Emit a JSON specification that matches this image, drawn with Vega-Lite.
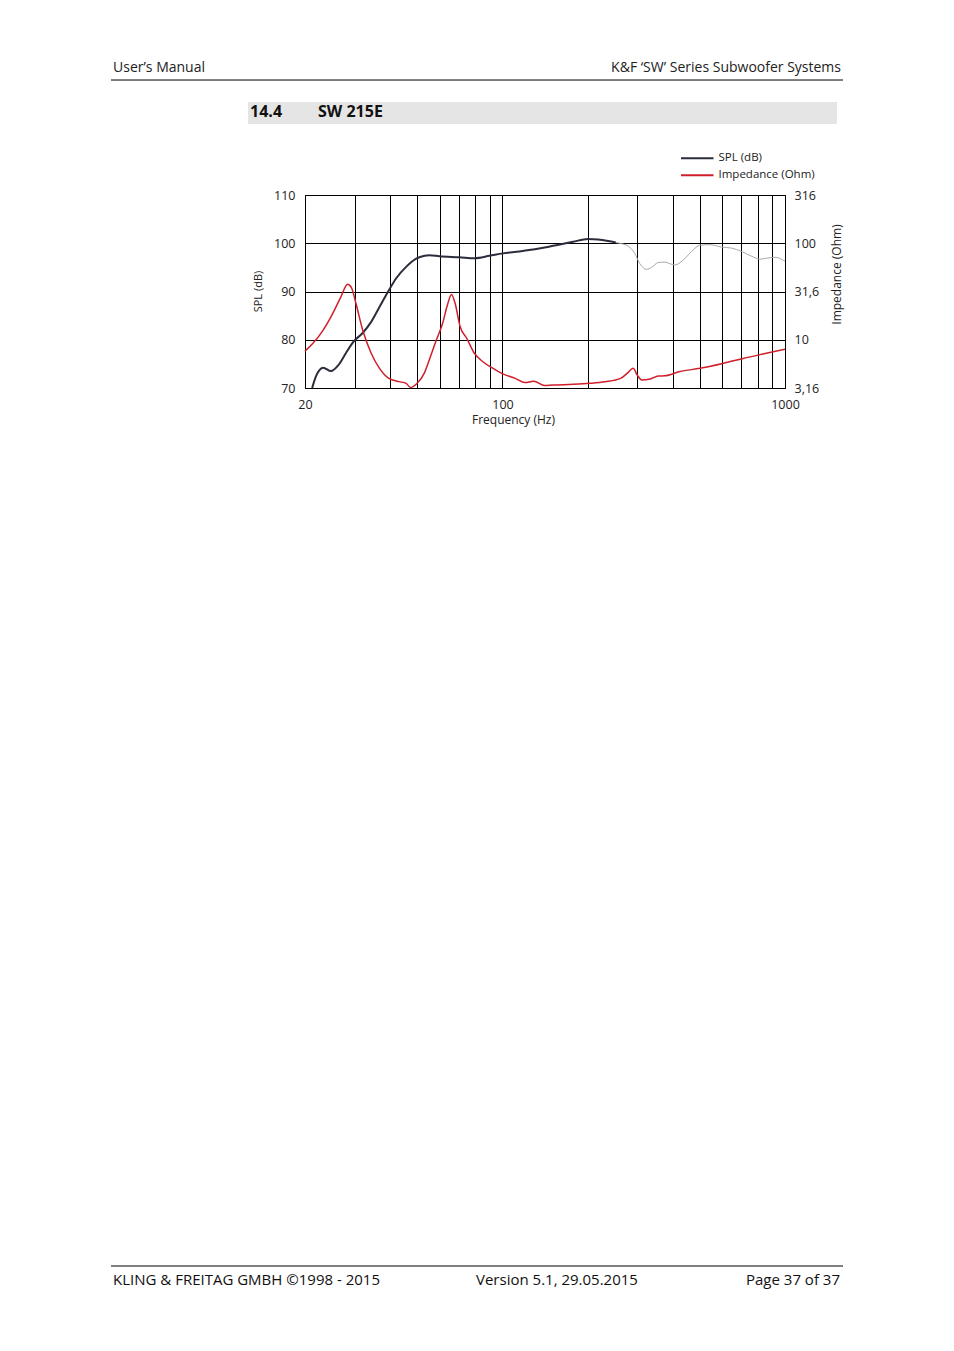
{
  "$schema": "https://vega.github.io/schema/vega-lite/v6.json",
  "width": 480,
  "height": 193,
  "autosize": {"type": "none"},
  "padding": {"left": 305, "top": 195, "right": 169, "bottom": 963},
  "background": "white",
  "config": {
    "font": "Open Sans",
    "view": {"stroke": "#000000", "strokeWidth": 1},
    "axis": {
      "labelFont": "Open Sans",
      "titleFont": "Open Sans",
      "labelColor": "#222222",
      "titleColor": "#222222",
      "titleFontWeight": "normal",
      "ticks": false,
      "domain": false,
      "gridColor": "#000000",
      "gridOpacity": 1,
      "gridWidth": 1
    }
  },
  "datasets": {
    "spl": [
      {"freq": 21.2, "spl": 70.0}, {"freq": 21.9, "spl": 72.5}, {"freq": 23.2, "spl": 74.2},
      {"freq": 24.7, "spl": 73.5}, {"freq": 26.3, "spl": 74.8}, {"freq": 27.9, "spl": 77.2},
      {"freq": 29.7, "spl": 79.6}, {"freq": 32.0, "spl": 81.4}, {"freq": 34.3, "spl": 83.7},
      {"freq": 36.7, "spl": 86.8}, {"freq": 39.3, "spl": 89.9}, {"freq": 42.0, "spl": 92.7},
      {"freq": 45.6, "spl": 95.1}, {"freq": 49.5, "spl": 96.8}, {"freq": 53.0, "spl": 97.4},
      {"freq": 55.2, "spl": 97.5}, {"freq": 59.9, "spl": 97.3}, {"freq": 70.5, "spl": 97.1},
      {"freq": 79.7, "spl": 96.9}, {"freq": 90.0, "spl": 97.4}, {"freq": 100.3, "spl": 97.9},
      {"freq": 115, "spl": 98.3}, {"freq": 128, "spl": 98.7}, {"freq": 141, "spl": 99.1},
      {"freq": 155, "spl": 99.6}, {"freq": 177.7, "spl": 100.3}, {"freq": 200.8, "spl": 100.9},
      {"freq": 218, "spl": 100.8}, {"freq": 240, "spl": 100.4}, {"freq": 252, "spl": 100.15}
    ],
    "splHigh": [
      {"freq": 252, "spl": 100.15}, {"freq": 260, "spl": 100.0}, {"freq": 278.5, "spl": 99.4},
      {"freq": 294, "spl": 97.9}, {"freq": 306, "spl": 95.8}, {"freq": 323.6, "spl": 94.6},
      {"freq": 337, "spl": 95.0}, {"freq": 355.7, "spl": 96.0}, {"freq": 375.6, "spl": 96.1},
      {"freq": 390, "spl": 95.8}, {"freq": 407.6, "spl": 95.5}, {"freq": 436, "spl": 96.5},
      {"freq": 467, "spl": 98.3}, {"freq": 500, "spl": 99.6}, {"freq": 542, "spl": 99.7},
      {"freq": 597, "spl": 99.2}, {"freq": 647, "spl": 99.0}, {"freq": 702, "spl": 98.3},
      {"freq": 762, "spl": 97.3}, {"freq": 815, "spl": 96.7}, {"freq": 861, "spl": 96.9},
      {"freq": 921, "spl": 97.1}, {"freq": 1000, "spl": 96.3}
    ],
    "imp": [
      {"freq": 20, "ohm": 7.62}, {"freq": 21.3, "ohm": 9.12}, {"freq": 23.0, "ohm": 12.15},
      {"freq": 24.9, "ohm": 18.0}, {"freq": 26.8, "ohm": 27.8}, {"freq": 28.3, "ohm": 37.6},
      {"freq": 29.2, "ohm": 34.7}, {"freq": 30.3, "ohm": 23.7}, {"freq": 32.0, "ohm": 12.6},
      {"freq": 34.3, "ohm": 7.24}, {"freq": 36.7, "ohm": 5.05}, {"freq": 39.6, "ohm": 3.98},
      {"freq": 43.1, "ohm": 3.68}, {"freq": 45.6, "ohm": 3.53}, {"freq": 47.3, "ohm": 3.2},
      {"freq": 49.5, "ohm": 3.46}, {"freq": 53.0, "ohm": 4.56}, {"freq": 54.5, "ohm": 5.67},
      {"freq": 58.3, "ohm": 9.86}, {"freq": 61.4, "ohm": 14.8}, {"freq": 63.8, "ohm": 22.8},
      {"freq": 66.0, "ohm": 29.5}, {"freq": 68.0, "ohm": 23.7}, {"freq": 70.8, "ohm": 13.7},
      {"freq": 74.8, "ohm": 10.3}, {"freq": 79.3, "ohm": 7.33}, {"freq": 85.5, "ohm": 5.87},
      {"freq": 92.0, "ohm": 5.1}, {"freq": 100.3, "ohm": 4.42}, {"freq": 111, "ohm": 3.98},
      {"freq": 120, "ohm": 3.6}, {"freq": 129, "ohm": 3.71}, {"freq": 141, "ohm": 3.35},
      {"freq": 150, "ohm": 3.39}, {"freq": 177.7, "ohm": 3.45}, {"freq": 203, "ohm": 3.53},
      {"freq": 231, "ohm": 3.67}, {"freq": 262, "ohm": 3.98}, {"freq": 278, "ohm": 4.56},
      {"freq": 290, "ohm": 5.05}, {"freq": 300, "ohm": 4.3}, {"freq": 311, "ohm": 3.83},
      {"freq": 333, "ohm": 3.92}, {"freq": 356, "ohm": 4.2}, {"freq": 375.6, "ohm": 4.23},
      {"freq": 424, "ohm": 4.68}, {"freq": 500, "ohm": 5.05}, {"freq": 605, "ohm": 5.7},
      {"freq": 711, "ohm": 6.4}, {"freq": 834, "ohm": 7.1}, {"freq": 1000, "ohm": 7.95}
    ]
  },
  "layer": [
    {
      "layer": [
        {
          "data": {"name": "spl"},
          "mark": {"type": "line", "interpolate": "monotone", "strokeWidth": 2},
          "encoding": {
            "x": {
              "field": "freq", "type": "quantitative",
              "scale": {"type": "log", "domain": [20, 1000], "nice": false},
              "axis": {
                "values": [20, 30, 40, 50, 60, 70, 80, 90, 100, 200, 300, 400, 500, 600, 700, 800, 900, 1000],
                "labelExpr": "datum.value == 20 || datum.value == 100 || datum.value == 1000 ? datum.value + '' : ''",
                "grid": true,
                "labelFlush": false,
                "labelPadding": 10,
                "labelFontSize": 12.5,
                "title": "Frequency (Hz)",
                "titleFontSize": 12,
                "titlePadding": 4,
                "titleX": 208
              }
            },
            "y": {
              "field": "spl", "type": "quantitative",
              "scale": {"domain": [70, 110], "nice": false, "zero": false},
              "axis": {
                "values": [70, 75, 80, 85, 90, 95, 100, 105, 110],
                "labelExpr": "datum.value % 10 == 0 ? datum.value + '' : ''",
                "grid": true,
                "labelPadding": 10,
                "labelFontSize": 12.5,
                "title": "SPL (dB)",
                "titleFontSize": 11,
                "titleAngle": 270,
                "titleX": -47,
                "titleY": 96,
                "titleAlign": "center",
                "titleBaseline": "middle"
              }
            },
            "color": {
              "datum": "SPL (dB)",
              "scale": {"domain": ["SPL (dB)", "Impedance (Ohm)"], "range": ["#2b2d3b", "#d01f2a"]},
              "legend": {
                "orient": "none",
                "legendX": 384.75,
                "legendY": -44.2,
                "title": null,
                "symbolType": "M-2.5,0H2.5",
                "symbolSize": 169,
                "symbolStrokeWidth": 2,
                "labelOffset": 13.75,
                "labelFontSize": 11.5,
                "labelFont": "Open Sans",
                "labelColor": "#222222",
                "rowPadding": 4,
                "padding": 0
              }
            }
          }
        },
        {
          "data": {"name": "splHigh"},
          "mark": {"type": "line", "interpolate": "monotone", "strokeWidth": 1, "color": "#a8a8a8"},
          "encoding": {
            "x": {"field": "freq", "type": "quantitative"},
            "y": {"field": "spl", "type": "quantitative"}
          }
        },
        {
          "data": {"values": [{}]},
          "mark": {"type": "rule", "color": "#000000", "strokeWidth": 1},
          "encoding": {
            "x": {"datum": 4.115, "type": "quantitative"},
            "x2": {"datum": 1604.4},
            "y": {"datum": 133.83, "type": "quantitative"}
          }
        },
        {
          "data": {"values": [{}]},
          "mark": {"type": "rule", "color": "#000000", "strokeWidth": 1},
          "encoding": {
            "x": {"datum": 4.115, "type": "quantitative"},
            "x2": {"datum": 1604.4},
            "y": {"datum": -111.97, "type": "quantitative"}
          }
        },
        {
          "data": {"values": [{}]},
          "mark": {"type": "rect", "color": "#e5e5e5"},
          "encoding": {
            "x": {"datum": 12.57, "type": "quantitative"},
            "x2": {"datum": 1527.7},
            "y": {"datum": 129.27, "type": "quantitative"},
            "y2": {"datum": 124.72}
          }
        },
        {
          "data": {"values": [{}]},
          "mark": {"type": "text", "text": "User’s Manual", "align": "left", "baseline": "alphabetic", "font": "Open Sans", "fontSize": 14, "color": "#222222"},
          "encoding": {
            "x": {"datum": 4.183, "type": "quantitative"},
            "y": {"datum": 135.49, "type": "quantitative"}
          }
        },
        {
          "data": {"values": [{}]},
          "mark": {"type": "text", "text": "K&F ‘SW’ Series Subwoofer Systems", "align": "right", "baseline": "alphabetic", "font": "Open Sans", "fontSize": 14, "color": "#222222"},
          "encoding": {
            "x": {"datum": 1578.5, "type": "quantitative"},
            "y": {"datum": 135.49, "type": "quantitative"}
          }
        },
        {
          "data": {"values": [{}]},
          "mark": {"type": "text", "text": "14.4", "align": "left", "baseline": "alphabetic", "font": "Open Sans", "fontSize": 16, "fontWeight": "bold", "color": "#111111"},
          "encoding": {
            "x": {"datum": 12.78, "type": "quantitative"},
            "y": {"datum": 126.17, "type": "quantitative"}
          }
        },
        {
          "data": {"values": [{}]},
          "mark": {"type": "text", "text": "SW 215E", "align": "left", "baseline": "alphabetic", "font": "Open Sans", "fontSize": 16, "fontWeight": "bold", "color": "#111111"},
          "encoding": {
            "x": {"datum": 22.24, "type": "quantitative"},
            "y": {"datum": 126.17, "type": "quantitative"}
          }
        },
        {
          "data": {"values": [{}]},
          "mark": {"type": "text", "text": "KLING & FREITAG GMBH ©1998 - 2015", "align": "left", "baseline": "alphabetic", "font": "Open Sans", "fontSize": 15, "color": "#111111"},
          "encoding": {
            "x": {"datum": 4.183, "type": "quantitative"},
            "y": {"datum": -115.91, "type": "quantitative"}
          }
        },
        {
          "data": {"values": [{}]},
          "mark": {"type": "text", "text": "Version 5.1, 29.05.2015", "align": "center", "baseline": "alphabetic", "font": "Open Sans", "fontSize": 15, "color": "#111111"},
          "encoding": {
            "x": {"datum": 155.9, "type": "quantitative"},
            "y": {"datum": -115.91, "type": "quantitative"}
          }
        },
        {
          "data": {"values": [{}]},
          "mark": {"type": "text", "text": "Page 37 of 37", "align": "right", "baseline": "alphabetic", "font": "Open Sans", "fontSize": 15, "color": "#111111"},
          "encoding": {
            "x": {"datum": 1565.6, "type": "quantitative"},
            "y": {"datum": -115.91, "type": "quantitative"}
          }
        }
      ]
    },
    {
      "data": {"name": "imp"},
      "mark": {"type": "line", "interpolate": "monotone", "strokeWidth": 1.5},
      "encoding": {
        "x": {"field": "freq", "type": "quantitative"},
        "y": {
          "field": "ohm", "type": "quantitative",
          "scale": {"type": "log", "domain": [3.16, 316], "nice": false},
          "axis": {
            "orient": "right",
            "values": [3.16, 10, 31.6, 100, 316],
            "labelExpr": "datum.value < 5 ? '3,16' : (datum.value > 30 && datum.value < 40 ? '31,6' : datum.value + '')",
            "grid": false,
            "labelPadding": 9,
            "labelFontSize": 12.5,
            "title": "Impedance (Ohm)",
            "titleFontSize": 12,
            "titleAngle": 270,
            "titleX": 51,
            "titleY": 79,
            "titleAlign": "center",
            "titleBaseline": "middle"
          }
        },
        "color": {"datum": "Impedance (Ohm)"}
      }
    }
  ],
  "resolve": {"scale": {"y": "independent"}}
}
